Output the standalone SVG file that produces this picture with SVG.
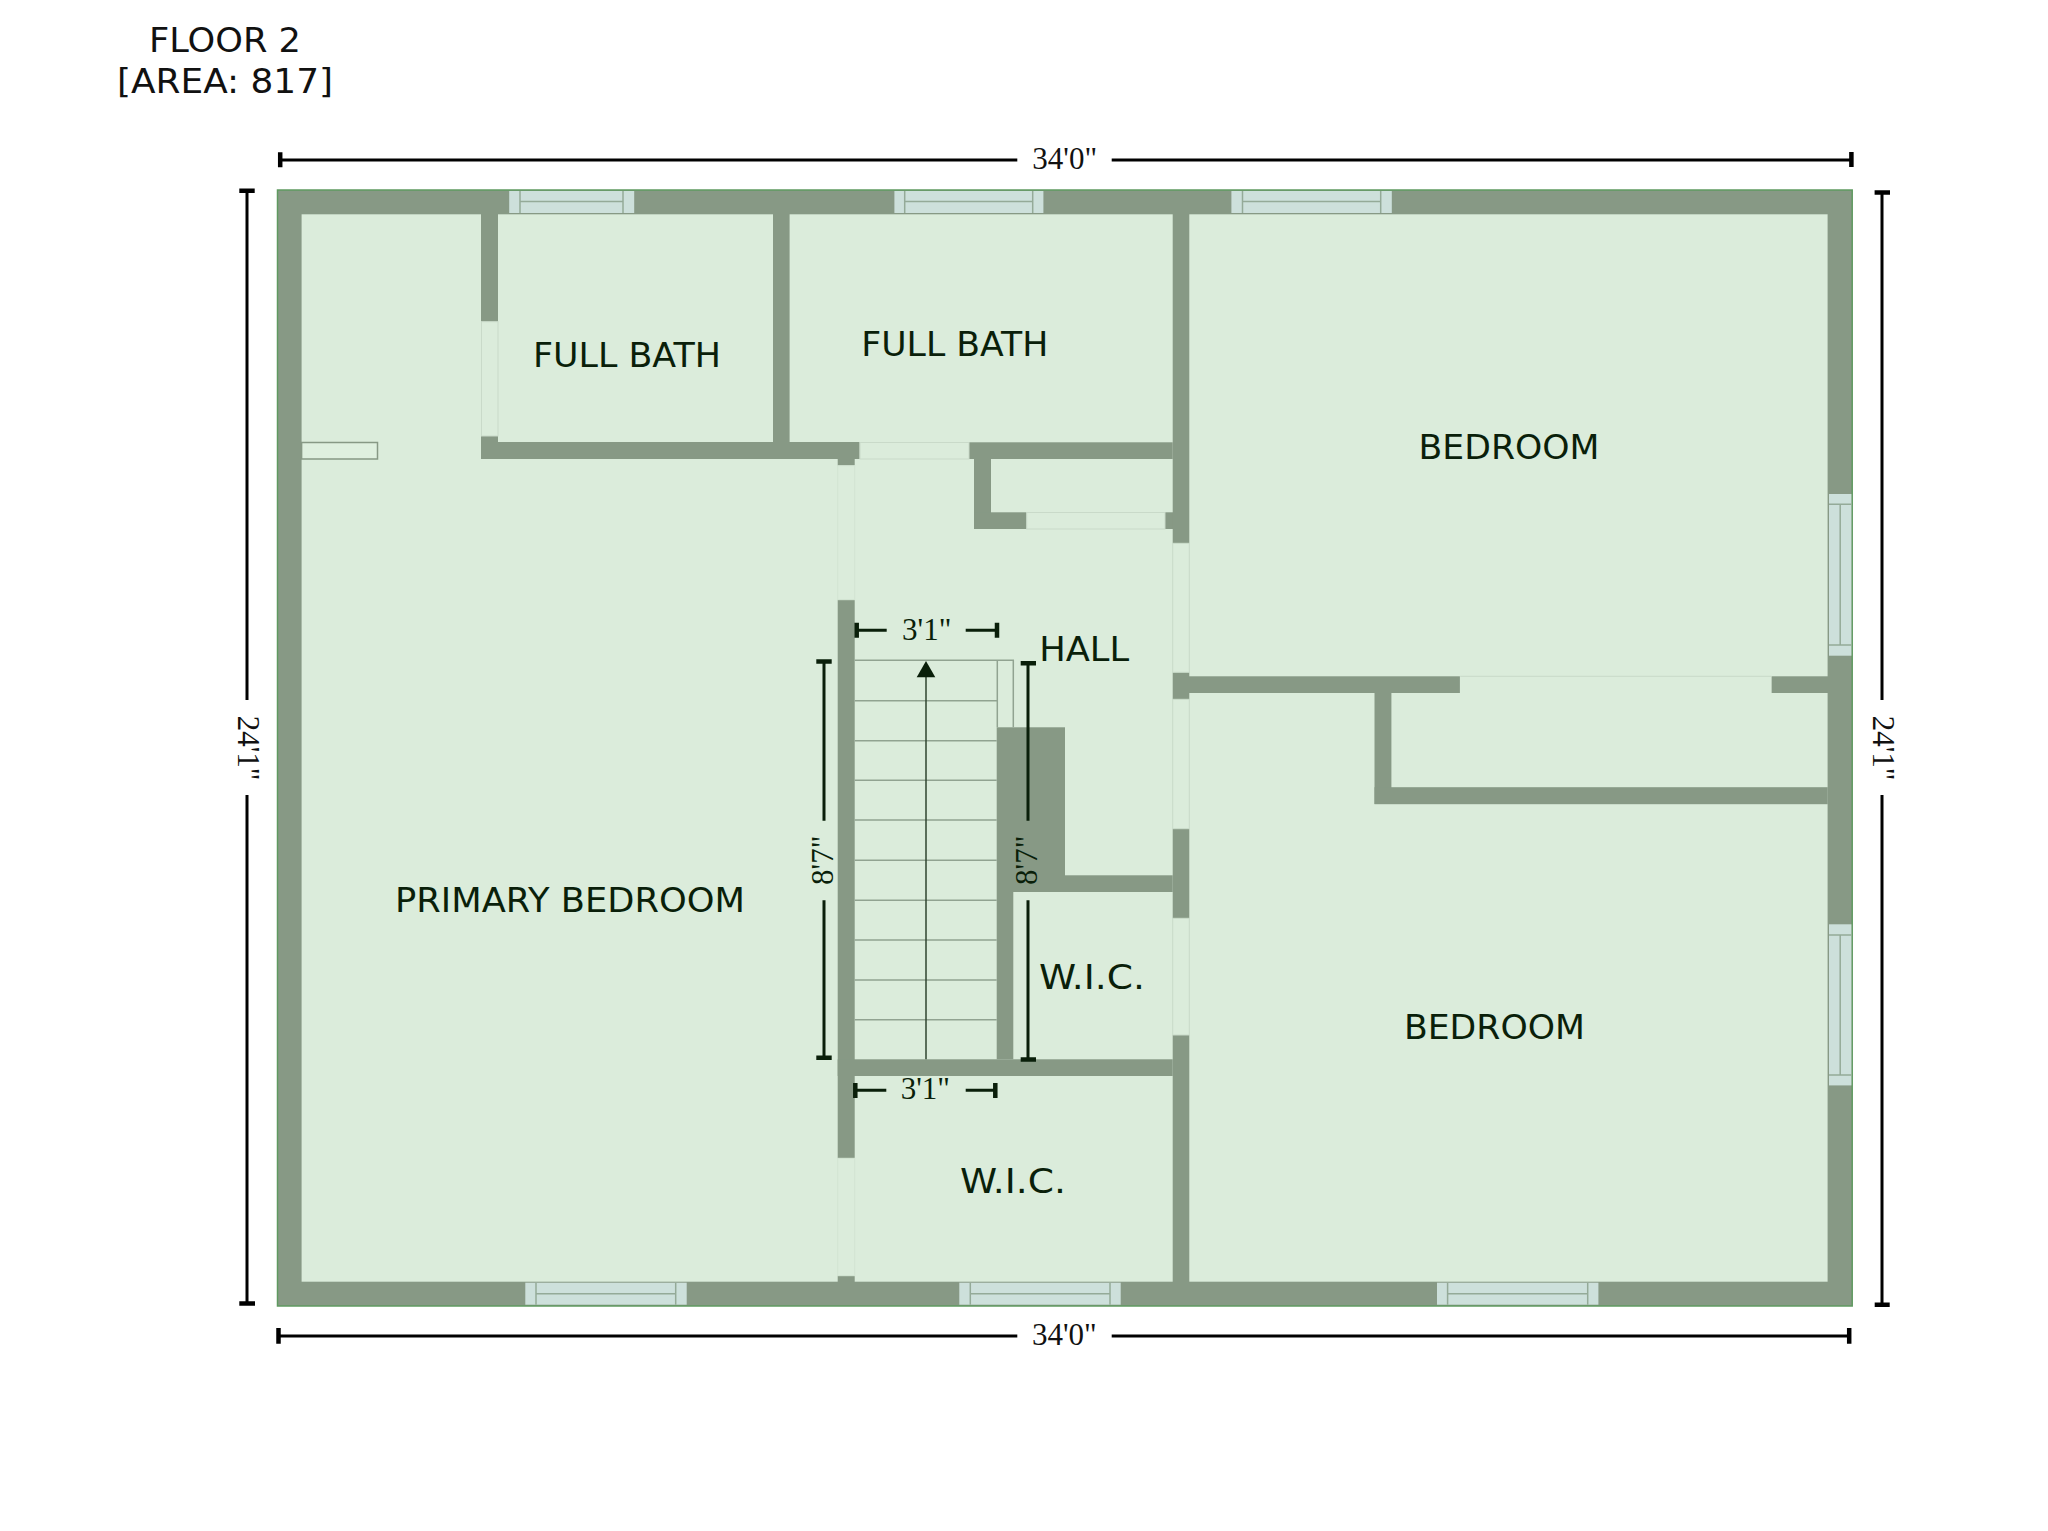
<svg xmlns="http://www.w3.org/2000/svg" width="2048" height="1531" viewBox="0 0 2048 1531">
<style>
.wall{fill:#879985}
.door{fill:#dbecdb;stroke:#c9dac9;stroke-width:1}
.doorf{fill:#dbecdb;stroke:#d3e4d3;stroke-width:1}
.win{fill:#cde0db;stroke:#94aa98;stroke-width:1.5}
.frame{fill:#cde0db}
.tread{stroke:#91a391;stroke-width:1.5;fill:none}
.dim{stroke:#000;stroke-width:3;fill:none}
.tick{stroke:#000;stroke-width:4.5;fill:none}
.dimi{stroke:#0a1f0a;stroke-width:3;fill:none}
.ticki{stroke:#0a1f0a;stroke-width:4.5;fill:none}
.room{font-family:"DejaVu Sans",sans-serif;font-size:34.5px;fill:#0a1f0a;text-anchor:middle}
.title{font-family:"DejaVu Sans",sans-serif;font-size:34.5px;fill:#111;text-anchor:middle}
.dt{font-family:"Liberation Serif",serif;font-size:31px;fill:#111;text-anchor:middle}
.dti{font-family:"Liberation Serif",serif;font-size:31px;fill:#0a1f0a;text-anchor:middle}
</style>
<rect width="2048" height="1531" fill="#fff"/>
<g id="title">
<text class="title" x="225" y="52" textLength="152" lengthAdjust="spacingAndGlyphs">FLOOR 2</text>
<text class="title" x="225" y="93.3" textLength="216" lengthAdjust="spacingAndGlyphs">[AREA: 817]</text>
</g>
<g id="shell">
<rect x="277.5" y="190" width="1574.7" height="1116" fill="#879985" stroke="#5f9a60" stroke-width="1.5"/>
<rect x="301.6" y="214.3" width="1526" height="1067.4" fill="#dbecdb"/>
</g>
<g id="walls">
<rect class="wall" x="481" y="214" width="17" height="107.7"/>
<rect class="wall" x="481" y="436" width="17" height="23"/>
<rect class="wall" x="773" y="214" width="16.6" height="228"/>
<rect class="wall" x="481" y="442" width="378.6" height="17"/>
<rect class="wall" x="969" y="442.3" width="203.7" height="16.7"/>
<rect class="wall" x="974" y="459" width="17" height="70"/>
<rect class="wall" x="974" y="512.3" width="52.7" height="16.7"/>
<rect class="wall" x="1165" y="512.3" width="8" height="16.7"/>
<rect class="wall" x="837.7" y="459" width="17" height="6.7"/>
<rect class="wall" x="837.7" y="599.7" width="17" height="558.6"/>
<rect class="wall" x="837.7" y="1275.7" width="17" height="6.3"/>
<rect class="wall" x="1172.7" y="214" width="16.6" height="329.3"/>
<rect class="wall" x="1172.7" y="672.3" width="16.6" height="27"/>
<rect class="wall" x="1172.7" y="828.7" width="16.6" height="89.6"/>
<rect class="wall" x="1172.7" y="1035" width="16.6" height="247"/>
<rect class="wall" x="996.7" y="727.3" width="68.3" height="164.7"/>
<rect class="wall" x="1065" y="875.3" width="107.7" height="16.7"/>
<rect class="wall" x="996.7" y="892" width="16.6" height="167.3"/>
<rect class="wall" x="837.7" y="1059.3" width="335" height="16.7"/>
<rect class="wall" x="1189" y="676.3" width="270.9" height="16.7"/>
<rect class="wall" x="1771.4" y="676.3" width="56.6" height="16.7"/>
<rect class="wall" x="1374.5" y="693" width="16.9" height="111"/>
<rect class="wall" x="1374.5" y="787.2" width="453.2" height="17"/>
</g>
<g id="doors">
<rect class="door" x="481.5" y="321.7" width="16.5" height="114.3"/>
<rect class="door" x="860" y="442.5" width="109" height="16.5"/>
<rect class="door" x="1026.7" y="512.5" width="138.3" height="16.5"/>
<rect class="doorf" x="837.7" y="465.7" width="17" height="134"/>
<rect class="doorf" x="837.7" y="1158.3" width="17" height="117.4"/>
<rect class="door" x="1172.7" y="543.3" width="16.6" height="129"/>
<rect class="door" x="1172.7" y="699.3" width="16.6" height="129.4"/>
<rect class="door" x="1172.7" y="918.3" width="16.6" height="116.7"/>
<rect x="1460.2" y="676.3" width="311.2" height="16.7" fill="#dbecdb"/>
<path d="M1460.2 676.3H1771.4" stroke="#c9dac9" stroke-width="1" fill="none"/>
<rect x="301.6" y="442.5" width="75.9" height="16.5" fill="#dff0df" stroke="#879985" stroke-width="1.5"/>
</g>
<g id="windows">
<g id="window-top-1">
<rect class="frame" x="509.2" y="191" width="125" height="22"/>
<path class="win" d="M520 191V213M623 191V213M520 201.5H623" fill="none"/>
</g>
<g id="window-top-2">
<rect class="frame" x="894.4" y="191" width="149" height="22"/>
<path class="win" d="M904.7 191V213M1032.7 191V213M904.7 201.5H1032.7" fill="none"/>
</g>
<g id="window-top-3">
<rect class="frame" x="1231.4" y="191" width="160.4" height="22"/>
<path class="win" d="M1242.5 191V213M1380.7 191V213M1242.5 201.5H1380.7" fill="none"/>
</g>
<g id="window-right-1">
<rect class="frame" x="1829" y="494" width="22.4" height="161.7"/>
<path class="win" d="M1829 504.3H1851.4M1829 645H1851.4M1840.2 504.3V645" fill="none"/>
</g>
<g id="window-right-2">
<rect class="frame" x="1829" y="924.3" width="22.4" height="161.1"/>
<path class="win" d="M1829 935H1851.4M1829 1075H1851.4M1840.2 935V1075" fill="none"/>
</g>
<g id="window-bottom-1">
<rect class="frame" x="525.3" y="1282.7" width="161.4" height="22"/>
<path class="win" d="M536 1282.7V1304.7M675.7 1282.7V1304.7M536 1293.7H675.7" fill="none"/>
</g>
<g id="window-bottom-2">
<rect class="frame" x="959.3" y="1282.7" width="161.4" height="22"/>
<path class="win" d="M970.3 1282.7V1304.7M1110 1282.7V1304.7M970.3 1293.7H1110" fill="none"/>
</g>
<g id="window-bottom-3">
<rect class="frame" x="1437" y="1282.7" width="161.4" height="22"/>
<path class="win" d="M1447.6 1282.7V1304.7M1587.7 1282.7V1304.7M1447.6 1293.7H1587.7" fill="none"/>
</g>
</g>
<g id="stairs">
<path class="tread" d="M854.7 660.3H1013.3V727.3M997.3 660.3V727.3M854.7 700.7H996.7M854.7 740.7H996.7M854.7 780.3H996.7M854.7 820H996.7M854.7 860.3H996.7M854.7 900.3H996.7M854.7 940H996.7M854.7 980H996.7M854.7 1019.7H996.7"/>
<path d="M926 1059.3V677" stroke="#2f452f" stroke-width="1.5" fill="none"/>
<path d="M926 661L935.3 677.3H916.7Z" fill="#0a1f0a"/>
</g>
<g id="dimensions">
<path class="dim" d="M278 160H1017.3M1111.7 160H1851"/>
<path class="tick" d="M280.2 152.3V167.3M1851.4 152V167"/>
<text class="dt" x="1064.7" y="168.5">34'0"</text>
<path class="dim" d="M278 1336H1017.3M1111.7 1336H1849"/>
<path class="tick" d="M278.5 1328V1343.7M1849.2 1328V1343.7"/>
<text class="dt" x="1064.4" y="1345">34'0"</text>
<path class="dim" d="M247 191V700M247 795V1303"/>
<path class="tick" d="M239.3 190.8H254.7M239.3 1303.5H255"/>
<text class="dt" transform="translate(238 748) rotate(90)" x="0" y="0">24'1"</text>
<path class="dim" d="M1882 192V700M1882 795V1304"/>
<path class="tick" d="M1874.6 192.5H1890M1874.7 1304.8H1889.7"/>
<text class="dt" transform="translate(1872.5 748) rotate(90)" x="0" y="0">24'1"</text>
<path class="dimi" d="M857 630.3H886.7M965.7 630.3H997"/>
<path class="ticki" d="M856.7 622.7V637.7M997 622.7V637.7"/>
<text class="dti" x="926.7" y="640">3'1"</text>
<path class="dimi" d="M855 1090.3H886.3M965.7 1090.3H995"/>
<path class="ticki" d="M855.3 1083V1098M995.3 1083V1098"/>
<text class="dti" x="925.3" y="1099.3">3'1"</text>
<path class="dimi" d="M824 661V820.7M824 900.3V1058"/>
<path class="ticki" d="M816.3 661.5H831.7M816.3 1057.7H831.7"/>
<text class="dti" transform="translate(833.3 860.3) rotate(-90)" x="0" y="0">8'7"</text>
<path class="dimi" d="M1028 663V820.7M1028 900.3V1059"/>
<path class="ticki" d="M1020.7 663.2H1036M1020.7 1059.5H1036"/>
<text class="dti" transform="translate(1037.3 860.3) rotate(-90)" x="0" y="0">8'7"</text>
</g>
<g id="labels">
<text id="label-bath-1" class="room" x="627" y="366.7" textLength="188" lengthAdjust="spacingAndGlyphs">FULL BATH</text>
<text id="label-bath-2" class="room" x="954.8" y="356" textLength="187" lengthAdjust="spacingAndGlyphs">FULL BATH</text>
<text id="label-bedroom-1" class="room" x="1509" y="458.6" textLength="181" lengthAdjust="spacingAndGlyphs">BEDROOM</text>
<text id="label-hall" class="room" x="1084.2" y="661" textLength="90" lengthAdjust="spacingAndGlyphs">HALL</text>
<text id="label-primary" class="room" x="570" y="911.7" textLength="350" lengthAdjust="spacingAndGlyphs">PRIMARY BEDROOM</text>
<text id="label-wic-1" class="room" x="1092" y="989" textLength="106" lengthAdjust="spacingAndGlyphs">W.I.C.</text>
<text id="label-bedroom-2" class="room" x="1494.4" y="1038.6" textLength="181" lengthAdjust="spacingAndGlyphs">BEDROOM</text>
<text id="label-wic-2" class="room" x="1013" y="1192.7" textLength="106" lengthAdjust="spacingAndGlyphs">W.I.C.</text>
</g>
</svg>
